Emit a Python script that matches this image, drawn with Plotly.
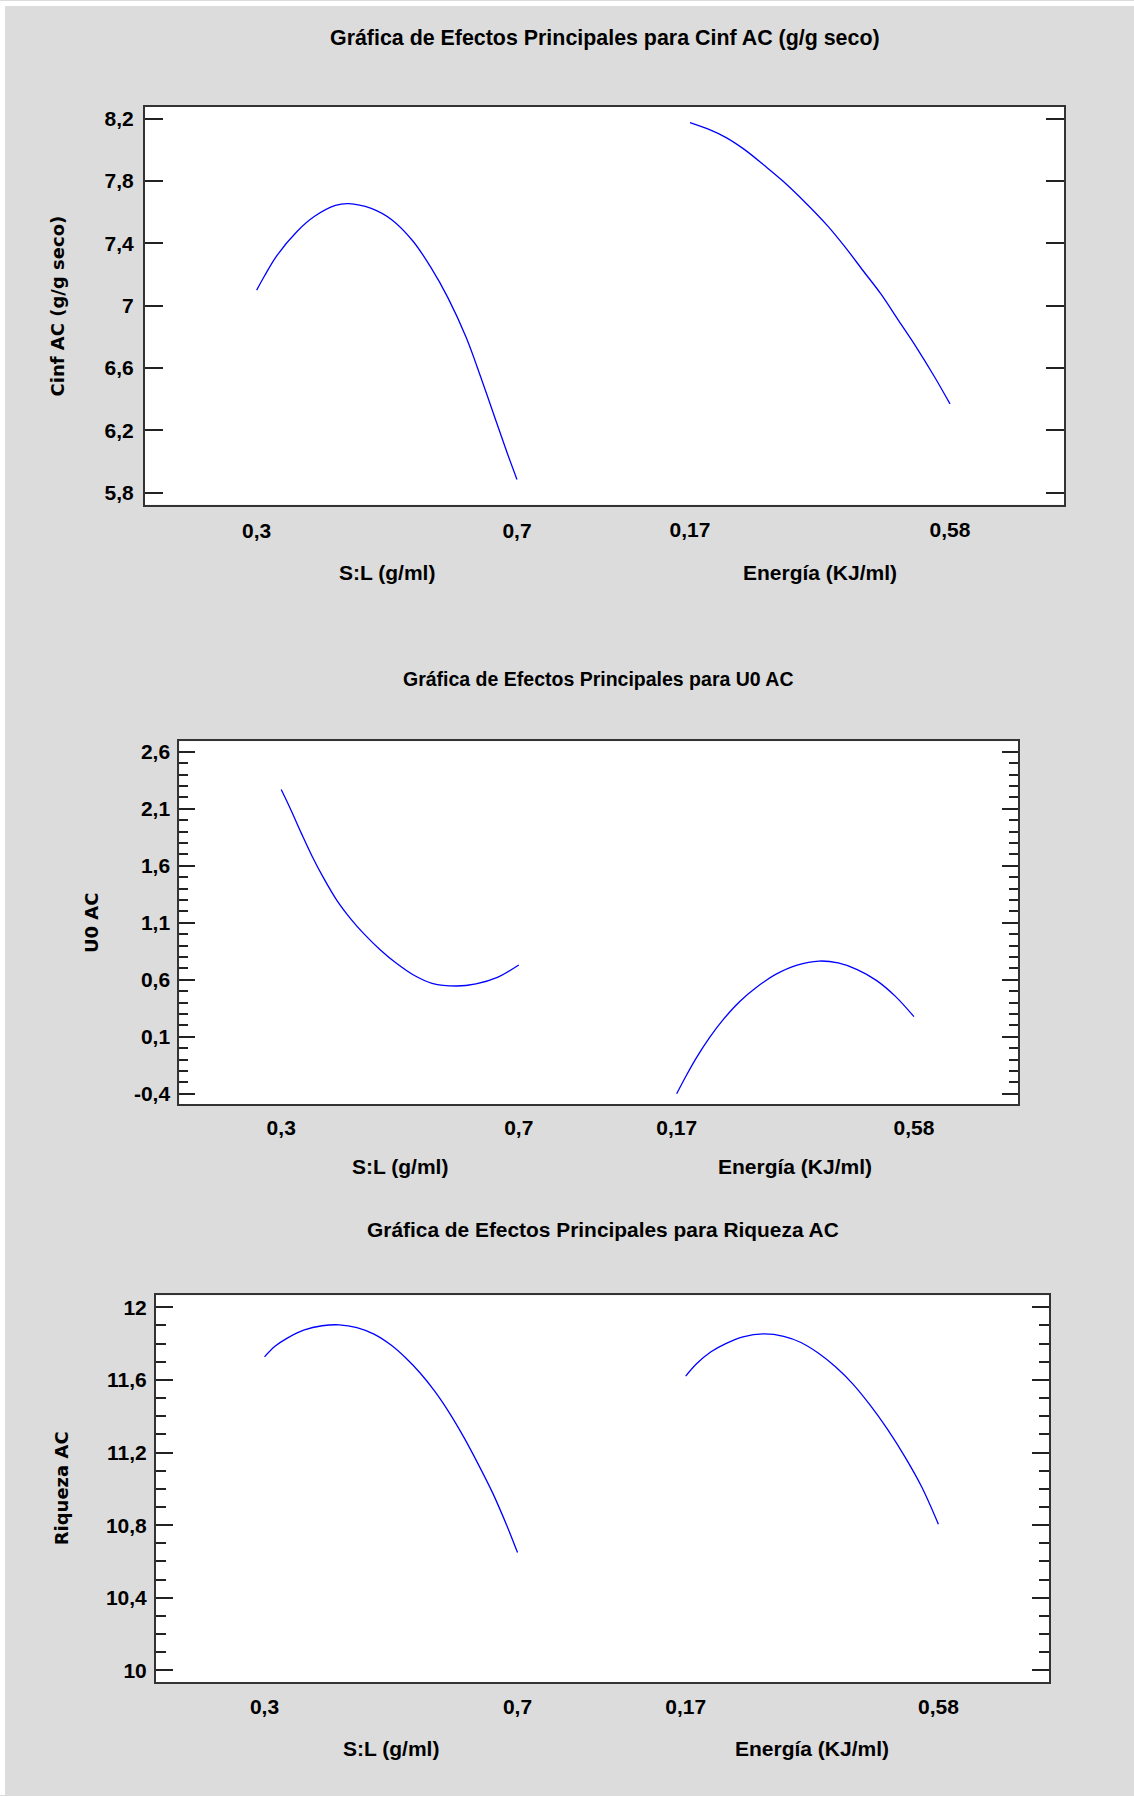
import plotly.graph_objects as go

# ---------------- data ----------------
# Panel 1: Cinf AC (g/g seco)
sl_x_cinf = [0.300, 0.312, 0.330, 0.362, 0.389, 0.421, 0.441, 0.476, 0.508, 0.540,
             0.567, 0.594, 0.622, 0.644, 0.667, 0.685, 0.700]
sl_y_cinf = [7.100, 7.190, 7.315, 7.476, 7.573, 7.643, 7.655, 7.624, 7.550, 7.415,
             7.250, 7.050, 6.795, 6.545, 6.270, 6.055, 5.885]
en_x_cinf = [0.170, 0.199, 0.227, 0.255, 0.288, 0.316, 0.349, 0.387, 0.415, 0.443,
             0.471, 0.499, 0.527, 0.556, 0.580]
en_y_cinf = [8.174, 8.132, 8.078, 8.004, 7.897, 7.801, 7.673, 7.512, 7.374, 7.224,
             7.075, 6.904, 6.733, 6.541, 6.370]

# Panel 2: U0 AC
sl_x_u0 = [0.300, 0.316, 0.334, 0.352, 0.371, 0.394, 0.417, 0.439, 0.467, 0.494,
           0.522, 0.554, 0.595, 0.628, 0.664, 0.700]
sl_y_u0 = [2.270, 2.095, 1.885, 1.685, 1.497, 1.295, 1.135, 1.005, 0.862, 0.745,
           0.645, 0.570, 0.546, 0.565, 0.622, 0.730]
en_x_u0 = [0.170, 0.185, 0.204, 0.227, 0.251, 0.279, 0.308, 0.341, 0.378, 0.416,
           0.449, 0.482, 0.515, 0.548, 0.580]
en_y_u0 = [-0.400, -0.255, -0.085, 0.095, 0.255, 0.410, 0.535, 0.648, 0.730, 0.765,
           0.748, 0.690, 0.595, 0.455, 0.277]

# Panel 3: Riqueza AC
sl_x_riq = [0.300, 0.317, 0.336, 0.363, 0.391, 0.418, 0.446, 0.473, 0.500, 0.523,
            0.546, 0.569, 0.592, 0.615, 0.638, 0.661, 0.684, 0.700]
sl_y_riq = [11.727, 11.786, 11.830, 11.875, 11.898, 11.903, 11.888, 11.852, 11.792, 11.722,
            11.638, 11.538, 11.420, 11.285, 11.135, 10.975, 10.790, 10.649]
en_x_riq = [0.170, 0.188, 0.211, 0.235, 0.263, 0.296, 0.329, 0.357, 0.385, 0.413,
            0.441, 0.469, 0.497, 0.525, 0.553, 0.580]
en_y_riq = [11.621, 11.690, 11.755, 11.800, 11.837, 11.853, 11.840, 11.806, 11.748, 11.672,
            11.578, 11.462, 11.330, 11.180, 11.010, 10.805]

# Tick values / labels
sl_ticks = [0.3, 0.7]
sl_ticktext = ["0,3", "0,7"]
en_ticks = [0.17, 0.58]
en_ticktext = ["0,17", "0,58"]

cinf_ticks = [5.8, 6.2, 6.6, 7.0, 7.4, 7.8, 8.2]
cinf_ticktext = ["5,8", "6,2", "6,6", "7", "7,4", "7,8", "8,2"]
u0_ticks = [-0.4, 0.1, 0.6, 1.1, 1.6, 2.1, 2.6]
u0_ticktext = ["-0,4", "0,1", "0,6", "1,1", "1,6", "2,1", "2,6"]
riq_ticks = [10.0, 10.4, 10.8, 11.2, 11.6, 12.0]
riq_ticktext = ["10", "10,4", "10,8", "11,2", "11,6", "12"]

titles = ["Gráfica de Efectos Principales para Cinf AC (g/g seco)",
          "Gráfica de Efectos Principales para U0 AC",
          "Gráfica de Efectos Principales para Riqueza AC"]
ytitles = ["Cinf AC (g/g seco)", "U0 AC", "Riqueza AC"]
xtitle_sl = "S:L (g/ml)"
xtitle_en = "Energía (KJ/ml)"

# ---------------- layout helpers ----------------
W, H = 1134, 1796
def px(x):
    return x / W
def py(y):
    return 1 - y / H

BG = "#DCDCDC"
LINE = "#333333"
BLUE = "#0000FF"
TICKFONT = dict(family="Liberation Sans, Arial, sans-serif", size=21, color="#000000", weight="bold")

SL_RANGE = [0.1284, 1.5406]
EN_RANGE = [-0.6895, 0.7598]

panels = [
    dict(sl=(sl_x_cinf, sl_y_cinf), en=(en_x_cinf, en_y_cinf),
         box=(145, 1064, 105.7, 504.3), yr=[5.723, 8.277],
         yt=(cinf_ticks, cinf_ticktext), minor=None, tlen=18,
         title_y=37, title_size=21.4, xt_y=572, ytitle_x=57.8,
         sl_std=6, en_std=10, y_std=5),
    dict(sl=(sl_x_u0, sl_y_u0), en=(en_x_u0, en_y_u0),
         box=(179.3, 1018, 741, 1104.3), yr=[-0.490, 2.694],
         yt=(u0_ticks, u0_ticktext), minor=dict(tick0=-0.4, dtick=0.1, ticklen=9), tlen=16,
         title_y=678.5, title_size=19.5, xt_y=1167, ytitle_x=91.5,
         sl_std=4, en_std=9, y_std=3),
    dict(sl=(sl_x_riq, sl_y_riq), en=(en_x_riq, en_y_riq),
         box=(156, 1049.2, 1295.7, 1683.3), yr=[9.934, 12.066],
         yt=(riq_ticks, riq_ticktext), minor=dict(tick0=10.0, dtick=0.1, ticklen=10), tlen=17,
         title_y=1229.6, title_size=20.9, xt_y=1749, ytitle_x=61.5,
         sl_std=4, en_std=10, y_std=3),
]

fig = go.Figure()
layout = dict(width=W, height=H, margin=dict(l=0, r=0, t=0, b=0),
              paper_bgcolor=BG, plot_bgcolor="white", showlegend=False,
              separators=",.")
annotations = []

for i, p in enumerate(panels):
    xa_sl = 2 * i + 1
    xa_en = 2 * i + 2
    ya = i + 1
    xs = "x" if xa_sl == 1 else f"x{xa_sl}"
    xe = f"x{xa_en}"
    ys = "y" if ya == 1 else f"y{ya}"
    l, r, t, b = p["box"]
    dom_x = [px(l), px(r)]
    dom_y = [py(b), py(t)]

    fig.add_trace(go.Scatter(x=p["sl"][0], y=p["sl"][1], mode="lines",
                             line=dict(color=BLUE, width=1.3, shape="spline", smoothing=1.0),
                             xaxis=xs, yaxis=ys, hoverinfo="skip"))
    fig.add_trace(go.Scatter(x=p["en"][0], y=p["en"][1], mode="lines",
                             line=dict(color=BLUE, width=1.3, shape="spline", smoothing=1.0),
                             xaxis=xe, yaxis=ys, hoverinfo="skip"))

    layout["xaxis" if xa_sl == 1 else f"xaxis{xa_sl}"] = dict(
        domain=dom_x, range=SL_RANGE, anchor=ys,
        tickmode="array", tickvals=sl_ticks, ticktext=sl_ticktext,
        ticks="", showline=True, mirror=True, linecolor=LINE, linewidth=2,
        showgrid=False, zeroline=False, tickfont=TICKFONT, ticklabelstandoff=p["sl_std"],
        fixedrange=True)
    layout[f"xaxis{xa_en}"] = dict(
        overlaying=xs, range=EN_RANGE, anchor=ys, side="bottom",
        tickmode="array", tickvals=en_ticks, ticktext=en_ticktext,
        ticks="", showline=False, showgrid=False, zeroline=False,
        tickfont=TICKFONT, ticklabelstandoff=p["en_std"], fixedrange=True)
    yax = dict(
        domain=dom_y, range=p["yr"], anchor=xs,
        tickmode="array", tickvals=p["yt"][0], ticktext=p["yt"][1],
        ticks="inside", ticklen=p["tlen"], tickwidth=2, tickcolor="#222222",
        showline=True, mirror="ticks", linecolor=LINE, linewidth=2,
        showgrid=False, zeroline=False, tickfont=TICKFONT, ticklabelstandoff=p["y_std"],
        fixedrange=True)
    if p["minor"]:
        yax["minor"] = dict(ticks="inside", tickmode="linear", tick0=p["minor"]["tick0"],
                            dtick=p["minor"]["dtick"], ticklen=p["minor"]["ticklen"],
                            tickwidth=2, tickcolor="#222222", showgrid=False)
    layout["yaxis" if ya == 1 else f"yaxis{ya}"] = yax

    cx = (l + r) / 2
    annotations.append(dict(text=titles[i], xref="paper", yref="paper",
                            x=px(cx), y=py(p["title_y"]), xanchor="center", yanchor="middle",
                            showarrow=False,
                            font=dict(family="Liberation Sans, Arial, sans-serif",
                                      size=p["title_size"], color="#000000", weight="bold")))
    # x-axis titles, centred under each factor's span
    sl_mid = sum(sl_ticks) / 2
    en_mid = sum(en_ticks) / 2
    annotations.append(dict(text=xtitle_sl, xref=xs, yref="paper",
                            x=sl_mid, y=py(p["xt_y"]), xanchor="center", yanchor="middle",
                            showarrow=False, font=TICKFONT))
    annotations.append(dict(text=xtitle_en, xref=xe, yref="paper",
                            x=en_mid, y=py(p["xt_y"]), xanchor="center", yanchor="middle",
                            showarrow=False, font=TICKFONT))
    annotations.append(dict(text=ytitles[i], xref="paper", yref="paper",
                            x=px(p["ytitle_x"]), y=py((t + b) / 2), xanchor="center", yanchor="middle",
                            textangle=-90, showarrow=False,
                            font=dict(family="DejaVu Sans, Verdana, sans-serif", size=18,
                                      color="#000000", weight="bold")))

layout["annotations"] = annotations
layout["shapes"] = [
    dict(type="rect", xref="paper", yref="paper", x0=0, x1=px(5), y0=0, y1=1,
         fillcolor="white", line=dict(width=0), layer="above"),
    dict(type="rect", xref="paper", yref="paper", x0=0, x1=1, y0=py(5), y1=1,
         fillcolor="white", line=dict(width=0), layer="above"),
]
fig.update_layout(**layout)
fig.write_html("out.html")
